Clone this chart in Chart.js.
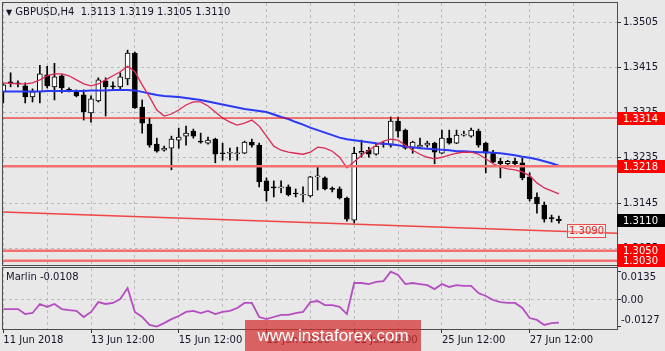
<!DOCTYPE html>
<html>
<head>
<meta charset="utf-8">
<title>GBPUSD H4</title>
<script src="https://cdn.jsdelivr.net/npm/chart.js@4.4.0/dist/chart.umd.min.js"></script>
<style>
  html, body { margin:0; padding:0; background:#e8e8e8; }
  #wrap { position:relative; width:665px; height:351px; overflow:hidden; background:#e8e8e8; font-family:"DejaVu Sans", sans-serif; }
  canvas { position:absolute; left:0; }
  #main { top:0; }
  #sub { top:266px; }
  .txt { position:absolute; font-size:10px; line-height:12px; color:#141428; white-space:pre; }
  .pbox { position:absolute; left:617px; width:48px; height:13px; line-height:13px; font-size:10px; color:#fff; padding-left:6px; box-sizing:border-box; }
  #tlabel { position:absolute; left:567px; width:39px; height:14px; line-height:12px; font-size:10px; color:#e32626; border:1px solid #ef4b4b; box-sizing:border-box; text-align:center; background:rgba(255,255,255,0.35); }
  #wm { position:absolute; left:245px; top:320px; width:176px; height:34px; background:rgba(212,44,44,0.72); color:#fff; font-family:"Liberation Sans", Arial, sans-serif; font-size:17px; line-height:31px; text-align:center; }
</style>
</head>
<body>
<div id="wrap">
  <canvas id="main" width="665" height="266"></canvas>
  <canvas id="sub" width="665" height="85"></canvas>
  <div class="txt" id="title" style="left:6px;top:6px;"></div>
  <div class="txt" id="mlabel" style="left:6px;top:271px;"></div>
  <div id="wm">www.instaforex.com</div>
</div>
<script>
// ---------------- DATA ----------------
const symbol = 'GBPUSD,H4';
const indicatorName = 'Marlin';

const opens = [1.3366,1.3385,1.3383,1.3378,1.3356,1.3366,1.3400,1.3376,1.3398,1.3370,
  1.3368,1.3360,1.3324,1.3348,1.3388,1.3377,1.3376,1.3392,1.3443,1.3336,
  1.3302,1.3262,1.3250,1.3254,1.3270,1.3278,1.3288,1.3267,1.3264,1.3272,
  1.3244,1.3244,1.3243,1.3244,1.3266,1.3260,1.3189,1.3176,1.3175,1.3177,
  1.3164,1.3161,1.3159,1.3197,1.3195,1.3174,1.3173,1.3155,1.3111,1.3244,
  1.3250,1.3242,1.3262,1.3260,1.3308,1.3290,1.3254,1.3256,1.3260,1.3264,
  1.3244,1.3274,1.3264,1.3280,1.3278,1.3288,1.3264,1.3244,1.3228,1.3223,
  1.3228,1.3225,1.3197,1.3157,1.3141,1.3115,1.3113];
const highs = [1.3382,1.3404,1.3388,1.3384,1.3372,1.3419,1.3417,1.3423,1.3400,1.3374,
  1.3370,1.3370,1.3358,1.3394,1.3394,1.3386,1.3404,1.3449,1.3445,1.3350,
  1.3314,1.3274,1.3258,1.3278,1.3294,1.3298,1.3292,1.3284,1.3276,1.3274,
  1.3264,1.3254,1.3256,1.3268,1.3272,1.3264,1.3195,1.3189,1.3189,1.3181,
  1.3173,1.3177,1.3198,1.3217,1.3197,1.3177,1.3177,1.3157,1.3256,1.3270,
  1.3256,1.3262,1.3266,1.3316,1.3316,1.3292,1.3268,1.3274,1.3268,1.3266,
  1.3290,1.3290,1.3290,1.3288,1.3294,1.3292,1.3266,1.3250,1.3234,1.3230,
  1.3234,1.3234,1.3205,1.3165,1.3147,1.3121,1.3119];
const lows = [1.3344,1.3376,1.3376,1.3344,1.3346,1.3344,1.3374,1.3350,1.3364,1.3366,
  1.3356,1.3310,1.3306,1.3346,1.3318,1.3370,1.3370,1.3380,1.3333,1.3284,
  1.3256,1.3246,1.3248,1.3211,1.3254,1.3260,1.3274,1.3264,1.3262,1.3225,
  1.3230,1.3230,1.3230,1.3243,1.3256,1.3177,1.3149,1.3157,1.3165,1.3159,
  1.3157,1.3147,1.3157,1.3171,1.3171,1.3167,1.3153,1.3109,1.3105,1.3236,
  1.3236,1.3240,1.3256,1.3256,1.3276,1.3252,1.3244,1.3254,1.3256,1.3223,
  1.3243,1.3262,1.3263,1.3278,1.3276,1.3256,1.3205,1.3225,1.3195,1.3221,
  1.3219,1.3191,1.3149,1.3125,1.3107,1.3107,1.3105];
const closes = [1.3380,1.3384,1.3382,1.3356,1.3366,1.3402,1.3378,1.3396,1.3374,1.3369,
  1.3358,1.3326,1.3352,1.3390,1.3376,1.3376,1.3396,1.3443,1.3334,1.3304,
  1.3260,1.3248,1.3254,1.3272,1.3276,1.3284,1.3278,1.3266,1.3270,1.3242,
  1.3243,1.3244,1.3244,1.3266,1.3260,1.3187,1.3169,1.3175,1.3175,1.3161,
  1.3163,1.3161,1.3197,1.3197,1.3173,1.3172,1.3155,1.3113,1.3244,1.3248,
  1.3242,1.3258,1.3262,1.3308,1.3288,1.3254,1.3266,1.3260,1.3264,1.3246,
  1.3274,1.3264,1.3280,1.3280,1.3290,1.3260,1.3244,1.3226,1.3223,1.3228,
  1.3223,1.3195,1.3153,1.3143,1.3113,1.3114,1.3110];

const maRed = [1.3384,1.3383,1.3382,1.3382,1.3384,1.3390,1.3398,1.3402,1.3402,1.3398,
  1.3390,1.3382,1.3378,1.3382,1.3390,1.3398,1.3406,1.3417,1.3406,1.3380,
  1.3356,1.3330,1.3318,1.3322,1.3330,1.3340,1.3346,1.3346,1.3338,1.3326,
  1.3314,1.3306,1.3300,1.3304,1.3310,1.3298,1.3278,1.3258,1.3250,1.3246,
  1.3244,1.3242,1.3246,1.3256,1.3254,1.3248,1.3236,1.3215,1.3227,1.3240,
  1.3250,1.3260,1.3268,1.3272,1.3270,1.3260,1.3250,1.3242,1.3236,1.3233,
  1.3236,1.3240,1.3244,1.3246,1.3246,1.3242,1.3233,1.3223,1.3217,1.3213,
  1.3211,1.3207,1.3199,1.3185,1.3175,1.3169,1.3163];
const maBlue = [1.3367,1.3367,1.3367,1.3367,1.3367,1.3367,1.3368,1.3368,1.3368,1.3368,
  1.3368,1.3368,1.3369,1.3369,1.3369,1.3370,1.3370,1.3370,1.3369,1.3366,
  1.3363,1.3360,1.3358,1.3357,1.3356,1.3354,1.3352,1.3350,1.3347,1.3344,
  1.3341,1.3338,1.3335,1.3332,1.3330,1.3328,1.3326,1.3321,1.3316,1.3312,
  1.3306,1.3301,1.3295,1.3290,1.3285,1.3280,1.3275,1.3272,1.3270,1.3268,
  1.3266,1.3264,1.3263,1.3262,1.3260,1.3257,1.3256,1.3254,1.3253,1.3252,
  1.3251,1.3250,1.3248,1.3248,1.3247,1.3246,1.3246,1.3245,1.3244,1.3242,
  1.3240,1.3237,1.3235,1.3232,1.3228,1.3224,1.3219];
const marlin = [-0.0043,-0.0043,-0.0043,-0.0067,-0.0062,-0.0019,-0.0033,-0.0019,-0.0043,-0.0048,
  -0.0052,-0.0081,-0.0057,-0.0010,-0.0019,-0.0014,0.0005,0.0057,-0.0057,-0.0081,
  -0.0119,-0.0127,-0.0110,-0.0091,-0.0076,-0.0057,-0.0052,-0.0062,-0.0052,-0.0067,
  -0.0057,-0.0052,-0.0038,-0.0014,-0.0014,-0.0081,-0.0091,-0.0081,-0.0071,-0.0071,
  -0.0062,-0.0057,-0.0010,-0.0005,-0.0024,-0.0024,-0.0033,-0.0067,0.0081,0.0081,
  0.0076,0.0086,0.0090,0.0135,0.0119,0.0076,0.0081,0.0076,0.0071,0.0052,
  0.0076,0.0062,0.0071,0.0067,0.0067,0.0033,0.0019,0.0000,-0.0010,-0.0014,
  -0.0014,-0.0038,-0.0086,-0.0095,-0.0119,-0.0110,-0.0108];

const gridIndex = [1,7,13,19,25,31,37,43,49,55,61,67,73,79];
const timeLabelIndex = [1,13,25,37,49,61,73];
const timeLabels = ['11 Jun 2018','13 Jun 12:00','15 Jun 12:00','19 Jun 12:00','21 Jun 12:00','25 Jun 12:00','27 Jun 12:00'];
const priceTicks = [1.3055,1.3145,1.3235,1.3325,1.3415,1.3505];
const marlinTicks = [-0.0127, 0, 0.0135];
const levelValues = [1.3314, 1.3218, 1.3050, 1.3030];
const trendValues = [1.3127, 1.3085];
const trendLabel = 1.3090;

// ------------- VIEW RANGES -------------
const xMin = 0.96, xMax = 84.95;
const yMin = 1.30217, yMax = 1.35428;
const mMin = -0.013816, mMax = 0.015245;

// ---------------- CHARTS ----------------
Chart.defaults.font.family = "'DejaVu Sans', sans-serif";
Chart.defaults.font.size = 10;
Chart.defaults.color = '#141428';

const n = closes.length;
const GRID = '#bcbcbc';
const TICK = '#333333';

const fitFixed = (w, h) => s => {
  if (w !== null) s.width = w;
  if (h !== null) s.height = h;
  s.paddingTop = 0; s.paddingBottom = 0; s.paddingLeft = 0; s.paddingRight = 0;
};

const frame = {
  id: 'frame',
  afterDatasetsDraw(c) {
    const a = c.chartArea, x = c.ctx;
    x.save();
    x.strokeStyle = '#4d4d4d';
    x.lineWidth = 1;
    x.strokeRect(a.left - 0.5, a.top - 0.5, a.right - a.left + 1, a.bottom - a.top + 1);
    x.restore();
  }
};

const hLine = (v, color, width) => ({
  type: 'line', data: [{x: xMin, y: v}, {x: xMax, y: v}],
  borderColor: color, borderWidth: width, pointRadius: 0, order: 0
});

const mainChart = new Chart(document.getElementById('main'), {
  type: 'bar',
  data: {
    datasets: [
      hLine(levelValues[0], '#f00000', 1),
      hLine(levelValues[1], '#f27070', 2.5),
      hLine(levelValues[2], '#f27070', 2.5),
      hLine(levelValues[3], '#f27070', 2.5),
      { type: 'line', data: [{x: xMin, y: trendValues[0]}, {x: xMax, y: trendValues[1]}],
        borderColor: '#ee4646', borderWidth: 1.5, pointRadius: 0, order: 0 },
      { type: 'line', data: maRed.map((v, i) => ({x: i + 1, y: v})),
        borderColor: '#dc2a55', borderWidth: 1.3, pointRadius: 0, tension: 0, order: 1 },
      { type: 'line', data: maBlue.map((v, i) => ({x: i + 1, y: v})),
        borderColor: '#2b39f5', borderWidth: 2, pointRadius: 0, tension: 0, order: 1 },
      { type: 'bar', data: lows.map((l, i) => ({x: i + 1, y: [l, highs[i]]})),
        backgroundColor: '#000000', borderWidth: 0, barThickness: 1, grouped: false, order: 3 },
      { type: 'bar', data: opens.map((o, i) => ({x: i + 1, y: [o, closes[i]]})),
        backgroundColor: opens.map((o, i) => closes[i] >= o ? '#ffffff' : '#000000'),
        borderColor: '#000000', borderWidth: 1, borderSkipped: false,
        barThickness: 5, minBarLength: 1, grouped: false, order: 2 }
    ]
  },
  options: {
    responsive: false, animation: false, events: [],
    layout: { padding: { left: 3, top: 3, right: 0, bottom: 1 } },
    plugins: { legend: { display: false }, tooltip: { enabled: false } },
    scales: {
      x: {
        type: 'linear', min: xMin, max: xMax, bounds: 'data', offset: false,
        afterBuildTicks: s => { s.ticks = gridIndex.map(v => ({value: v})); },
        afterFit: fitFixed(null, 0),
        ticks: { display: false, autoSkip: false },
        grid: { color: GRID, drawTicks: false, offset: false },
        border: { display: false, dash: [3, 3] }
      },
      y: {
        type: 'linear', position: 'right', min: yMin, max: yMax, bounds: 'data',
        afterBuildTicks: s => { s.ticks = priceTicks.map(v => ({value: v})); },
        afterFit: fitFixed(48, null),
        ticks: { autoSkip: false, padding: 2, callback: v => v.toFixed(4) },
        grid: { color: GRID, tickColor: TICK, tickLength: 4 },
        border: { display: false, dash: [3, 3] }
      }
    }
  },
  plugins: [frame]
});

const subChart = new Chart(document.getElementById('sub'), {
  type: 'line',
  data: {
    datasets: [{ data: marlin.map((v, i) => ({x: i + 1, y: v})),
      borderColor: '#b44ec0', borderWidth: 1.8, pointRadius: 0, tension: 0 }]
  },
  options: {
    responsive: false, animation: false, events: [],
    layout: { padding: { left: 3, top: 2, right: 0, bottom: 0 } },
    plugins: { legend: { display: false }, tooltip: { enabled: false } },
    scales: {
      x: {
        type: 'linear', min: xMin, max: xMax, bounds: 'data', offset: false,
        afterBuildTicks: s => { s.ticks = gridIndex.map(v => ({value: v})); },
        afterFit: fitFixed(null, 22),
        ticks: { autoSkip: false, maxRotation: 0, minRotation: 0, align: 'start', padding: 1,
          callback: v => { const k = timeLabelIndex.indexOf(v); return k >= 0 ? timeLabels[k] : ''; } },
        grid: { color: GRID, offset: false, tickLength: 4,
          tickColor: c => (c.tick && timeLabelIndex.includes(c.tick.value)) ? TICK : 'rgba(0,0,0,0)' },
        border: { display: false, dash: [3, 3] }
      },
      y: {
        type: 'linear', position: 'right', min: mMin, max: mMax, bounds: 'data',
        afterBuildTicks: s => { s.ticks = marlinTicks.map(v => ({value: v})); },
        afterFit: fitFixed(48, null),
        ticks: { autoSkip: false, padding: 0,
          callback: v => v === 0 ? '0.00' : (v > 0 ? ['', v.toFixed(4)] : [v.toFixed(4), '']) },
        grid: { color: c => (c.tick && c.tick.value === 0) ? GRID : 'rgba(0,0,0,0)', tickColor: TICK, tickLength: 4 },
        border: { display: false, dash: [3, 3] }
      }
    }
  },
  plugins: [frame]
});

// ------------- TEXT OVERLAYS -------------
const last = n - 1;
document.getElementById('title').innerHTML =
  '<span style="font-size:8px">\u25BC</span> ' + symbol + '  ' +
  [opens[last], highs[last], lows[last], closes[last]].map(v => v.toFixed(4)).join(' ');
document.getElementById('mlabel').textContent = indicatorName + ' ' + marlin[last].toFixed(4);

const wrap = document.getElementById('wrap');
const ys = mainChart.scales.y;
[
  {v: levelValues[0], bg: '#ff0000'},
  {v: levelValues[1], bg: '#ff0000'},
  {v: closes[last], bg: '#000000'},
  {v: levelValues[2], bg: '#ff0000'},
  {v: levelValues[3], bg: '#ff0000'}
].forEach(s => {
  const d = document.createElement('div');
  d.className = 'pbox';
  d.style.background = s.bg;
  d.style.top = (ys.getPixelForValue(s.v) - 6.5) + 'px';
  d.textContent = s.v.toFixed(4);
  wrap.appendChild(d);
});
const tl = document.createElement('div');
tl.id = 'tlabel';
tl.style.top = (ys.getPixelForValue(trendLabel) - 7) + 'px';
tl.textContent = trendLabel.toFixed(4);
wrap.appendChild(tl);
</script>
</body>
</html>
